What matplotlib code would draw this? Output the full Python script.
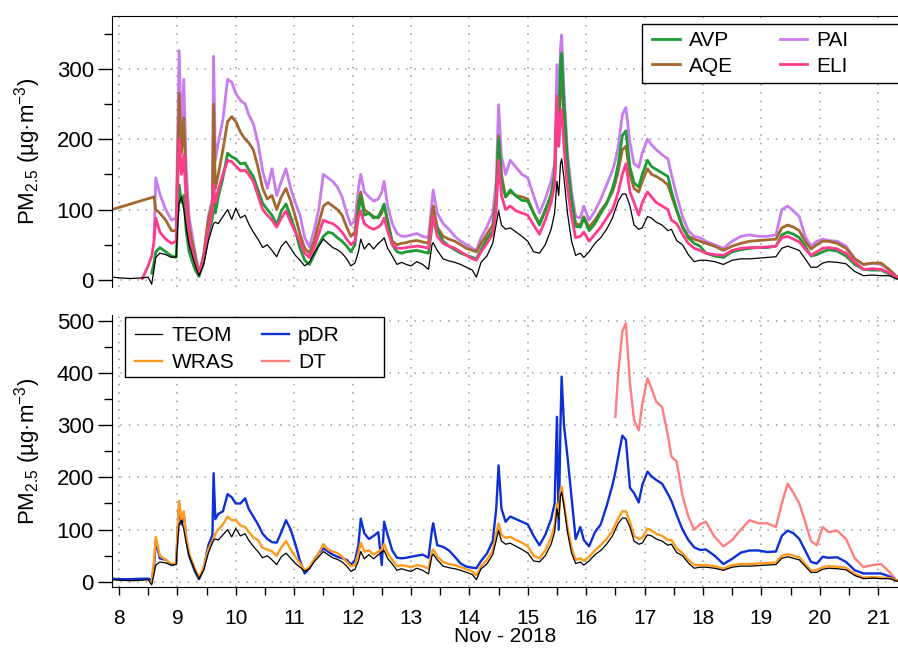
import numpy as np
import matplotlib
matplotlib.use("Agg")
import matplotlib.pyplot as plt
import matplotlib.ticker as ticker
from matplotlib.patches import Rectangle

plt.rcParams['font.family'] = ['Liberation Sans', 'DejaVu Sans']
plt.rcParams['mathtext.fontset'] = 'custom'
plt.rcParams['mathtext.rm'] = 'Liberation Sans'
plt.rcParams['mathtext.it'] = 'Liberation Sans:italic'

nan = np.nan

# sample times, day of November 2018
days = np.array([
    7.88, 8.0, 8.2, 8.4, 8.5,
    8.56, 8.6, 8.63, 8.7, 8.8, 8.9, 8.98,
    9.0, 9.03, 9.07, 9.11, 9.15, 9.2, 9.3, 9.37, 9.45,
    9.53, 9.6, 9.62, 9.65, 9.7, 9.78, 9.86, 9.93,
    10.0, 10.08, 10.16, 10.22, 10.3, 10.38, 10.46, 10.54, 10.62, 10.7, 10.78, 10.86, 10.94,
    11.02, 11.1, 11.18, 11.26, 11.34, 11.42, 11.5, 11.58, 11.66, 11.74, 11.82, 11.9, 11.97,
    12.04, 12.1, 12.14, 12.2, 12.28, 12.36, 12.44, 12.5, 12.54, 12.6, 12.68, 12.76, 12.84, 12.92,
    13.0, 13.1, 13.2, 13.3, 13.36, 13.38, 13.45, 13.55, 13.65, 13.75, 13.85, 13.95,
    14.05, 14.12, 14.2, 14.3, 14.4, 14.46, 14.5, 14.55, 14.62, 14.7, 14.8, 14.9,
    15.0, 15.1, 15.2, 15.3, 15.4, 15.46, 15.5, 15.53, 15.56, 15.58, 15.62, 15.68, 15.75, 15.82, 15.9, 15.96,
    16.05, 16.15, 16.25, 16.35, 16.45, 16.5, 16.55, 16.62, 16.68, 16.75, 16.82, 16.9, 16.96,
    17.05, 17.12, 17.2, 17.3, 17.4, 17.46, 17.55, 17.65, 17.75, 17.85, 17.95,
    18.05, 18.2, 18.35, 18.5, 18.65, 18.8, 18.95,
    19.1, 19.25, 19.35, 19.45, 19.55, 19.65, 19.75, 19.85, 19.95,
    20.05, 20.15, 20.3, 20.45, 20.6, 20.75, 20.9,
    21.05, 21.2, 21.3, 21.4,
])

teom = [
    4, 3, 2, 3, 4,
    -6, 15, 32, 38, 36, 32, 33,
    70, 110, 118, 100, 75, 50, 22, 6, 22,
    55, 75, 80, 82, 80, 90, 100, 86,
    102, 88, 92, 80, 68, 58, 46, 50, 42, 33, 48, 55, 45,
    35, 28, 20, 25, 38, 48, 58, 52, 46, 43, 38, 30, 20,
    24, 40, 58, 44, 52, 44, 52, 56, 60, 45, 34, 22, 25, 22,
    20, 26, 22, 15, 50, 53, 42, 30, 27, 25, 22, 18,
    14, 4, 25, 34, 52, 80, 98, 78, 72, 74, 68, 62,
    55, 40, 38, 50, 72, 95, 140, 120, 165, 172, 145, 95, 55, 35, 38, 32,
    40, 52, 60, 72, 88, 100, 112, 122, 122, 105, 78, 72, 74,
    90, 88, 82, 78, 70, 72, 56, 50, 36, 26, 28,
    28, 26, 22, 28, 30, 30, 31,
    32, 33, 45, 48, 45, 42, 30, 18, 18,
    24, 26, 25, 23, 12, 6, 7,
    6, 6, 2, 0,
]

avp = [
    nan, nan, nan, nan, nan,
    10, 25, 40, 46, 40, 34, 32,
    80, 135, 110, 120, 70, 40, 15, 5, 25,
    65, 88, 120, 95, 118, 145, 180, 175,
    172, 165, 166, 157, 147, 128, 109, 100, 92, 78, 98, 108, 90,
    70, 45, 28, 22, 35, 50, 62, 68, 66, 60, 55, 48, 40,
    50, 95, 120, 92, 95, 88, 90, 100, 108, 82, 50, 40, 38, 40,
    41, 42, 40, 38, 75, 86, 72, 55, 48, 43, 38, 35,
    32, 30, 43, 58, 70, 110, 200, 140, 118, 128, 119, 113,
    112, 95, 78, 98, 122, 150, 251, 200, 310, 322, 250, 168, 115, 76, 75, 88,
    70, 80, 95, 108, 130, 145, 165, 205, 212, 160, 138, 132, 150,
    170, 161, 157, 152, 147, 126, 100, 75, 60, 52, 48,
    38, 34, 32, 40, 43, 45, 46,
    46, 48, 64, 68, 65, 60, 48, 34, 36,
    40, 43, 41, 34, 22, 15, 14,
    14, 8, 3, 0,
]

aqe = [
    100, nan, nan, nan, nan,
    nan, 118, 100, 95, 85, 70, 70,
    150, 265, 180, 230, 130, 75, 35, 8, 35,
    85, 110, 250, 130, 150, 185, 225, 232,
    225, 210, 200, 195, 185, 160, 130, 115, 120, 100, 118, 130, 112,
    90, 65, 45, 38, 55, 80, 105, 110, 105, 100, 92, 75, 62,
    68, 110, 125, 100, 95, 90, 88, 95, 105, 85, 55, 50, 52, 53,
    55, 56, 54, 52, 95, 105, 75, 62, 58, 55, 50, 45,
    42, 40, 52, 65, 78, 120, 205, 150, 118, 125, 120, 118,
    115, 95, 80, 100, 120, 140, 230, 190, 280, 290, 230, 160, 112, 80, 78, 90,
    75, 85, 98, 110, 125, 138, 155, 185, 190, 150, 130, 125, 140,
    158, 150, 147, 142, 135, 120, 98, 76, 62, 58, 55,
    52, 48, 42, 48, 52, 55, 56,
    57, 58, 74, 78, 75, 70, 55, 44, 50,
    55, 55, 52, 45, 30, 22, 24,
    24, 14, 6, 0,
]

pai = [
    nan, nan, nan, nan, nan,
    nan, 60, 145, 122, 100, 85, 88,
    180, 326, 200, 285, 160, 90, 40, 10, 35,
    90, 115, 318, 170, 195, 228, 285, 281,
    265, 255, 250, 235, 222, 195, 155, 130, 158, 120, 140, 158, 130,
    110, 92, 60, 47, 70, 100, 150, 145, 140, 132, 118, 95, 78,
    85, 130, 150, 125, 118, 112, 115, 125, 140, 105, 80, 66, 62, 62,
    64, 66, 62, 60, 110, 128, 95, 80, 72, 62, 55, 50,
    45, 42, 60, 75, 95, 140, 249, 175, 150, 170, 160, 150,
    145, 120, 95, 115, 140, 165, 306, 215, 330, 348, 270, 180, 125, 90, 88, 105,
    85, 98, 115, 135, 155, 170, 190, 235, 245, 195, 165, 160, 180,
    200, 192, 185, 178, 172, 150, 120, 90, 70, 62, 60,
    55, 50, 45, 55, 62, 64, 62,
    62, 64, 100, 105, 98, 90, 62, 48, 55,
    58, 56, 55, 48, 30, 22, 24,
    22, 14, 6, 0,
]

eli = [
    nan, nan, nan, 2, 20,
    34, 55, 88, 68, 58, 52, 55,
    120, 200, 150, 178, 110, 60, 25, 8, 30,
    70, 100, 135, 110, 128, 150, 170, 168,
    162, 155, 156, 150, 140, 120, 100, 92, 85, 75, 88, 98, 82,
    68, 55, 38, 32, 45, 65, 85, 82, 80, 75, 68, 58, 50,
    55, 90, 98, 80, 75, 72, 75, 80, 88, 70, 50, 45, 45, 46,
    47, 48, 47, 45, 80, 90, 62, 52, 48, 45, 40, 35,
    30, 28, 40, 52, 65, 100, 170, 120, 100, 105, 98, 95,
    92, 78, 65, 85, 110, 135, 261, 190, 235, 242, 190, 130, 90, 60, 62, 68,
    55, 65, 75, 88, 100, 112, 125, 150, 165, 125, 110, 92, 110,
    125, 118, 110, 105, 100, 85, 80, 65, 52, 45, 42,
    38, 36, 35, 42, 45, 46, 46,
    47, 48, 60, 62, 58, 54, 44, 35, 40,
    45, 46, 44, 38, 25, 15, 16,
    15, 10, 4, 0,
]

wras = [
    nan, nan, nan, nan, nan,
    0, 40, 86, 50, 42, 34, 35,
    90, 155, 118, 135, 85, 55, 25, 8, 28,
    62, 78, 82, 92, 100, 110, 125, 118,
    118, 108, 105, 96, 85, 80, 65, 62, 58, 50, 66, 78, 62,
    48, 35, 22, 28, 42, 55, 72, 62, 58, 55, 48, 38, 30,
    32, 55, 75, 58, 60, 52, 58, 62, 72, 55, 42, 30, 32, 30,
    28, 32, 30, 25, 58, 62, 48, 38, 34, 32, 28, 24,
    20, 12, 30, 42, 60, 92, 112, 90, 84, 86, 80, 75,
    68, 50, 45, 60, 85, 108, 150, 125, 175, 182, 150, 105, 65, 42, 45, 40,
    48, 60, 70, 82, 98, 110, 122, 135, 135, 115, 88, 82, 84,
    102, 98, 92, 88, 80, 80, 64, 55, 42, 32, 32,
    32, 30, 25, 32, 34, 34, 35,
    36, 37, 50, 53, 50, 47, 34, 22, 22,
    28, 30, 29, 27, 15, 8, 9,
    8, 7, 3, 0,
]

pdr = [
    6, 5, 5, 6, 6,
    3, 30, 78, 45, 42, 32, 35,
    85, 150, 110, 130, 85, 50, 20, 5, 25,
    70, 90, 208, 120, 130, 135, 168, 162,
    150, 150, 160, 140, 125, 110, 92, 82, 76, 75, 95, 118, 100,
    72, 40, 16, 26, 42, 55, 64, 58, 52, 48, 45, 42, 33,
    40, 70, 121, 93, 82, 88, 95, 32, 115, 90, 60, 46, 45, 46,
    48, 50, 52, 46, 100, 112, 70, 67, 60, 48, 35, 29,
    27, 26, 40, 54, 78, 140, 223, 140, 115, 125, 120, 115,
    110, 88, 70, 90, 120, 150, 316, 100, 300, 393, 300, 240, 160, 82, 105, 80,
    68, 95, 110, 145, 185, 210, 240, 280, 272, 180, 170, 152, 185,
    211, 202, 195, 188, 168, 155, 128, 100, 80, 66, 61,
    62, 50, 34, 44, 56, 60, 60,
    57, 58, 88, 98, 93, 82, 60, 38, 35,
    48, 46, 47, 38, 22, 16, 16,
    16, 10, 3, 0,
]

dt = [
    nan, nan, nan, nan, nan,
    nan, nan, nan, nan, nan, nan, nan,
    nan, nan, nan, nan, nan, nan, nan, nan, nan,
    nan, nan, nan, nan, nan, nan, nan, nan,
    nan, nan, nan, nan, nan, nan, nan, nan, nan, nan, nan, nan, nan,
    nan, nan, nan, nan, nan, nan, nan, nan, nan, nan, nan, nan, nan,
    nan, nan, nan, nan, nan, nan, nan, nan, nan, nan, nan, nan, nan, nan,
    nan, nan, nan, nan, nan, nan, nan, nan, nan, nan, nan, nan,
    nan, nan, nan, nan, nan, nan, nan, nan, nan, nan, nan, nan,
    nan, nan, nan, nan, nan, nan, nan, nan, nan, nan, nan, nan, nan, nan, nan, nan,
    nan, nan, nan, nan, nan, 316, 400, 480, 495, 380, 310, 290, 340,
    390, 370, 345, 335, 280, 240, 230, 165, 125, 100, 110,
    115, 86, 68, 80, 100, 118, 112,
    112, 105, 150, 188, 170, 150, 115, 78, 70,
    105, 95, 98, 82, 45, 28, 32,
    34, 18, 4, 0,
]

top_series = [("PAI", pai, "#c77cf0"), ("AQE", aqe, "#a3682f"),
              ("AVP", avp, "#1e9a35"), ("ELI", eli, "#ff3c8c")]
bottom_series = [("DT", dt, "#ff7e7e"), ("pDR", pdr, "#0c2fd6"),
                 ("WRAS", wras, "#ff9a1c")]

fig = plt.figure(figsize=(8.98, 6.49), dpi=100)
ax1 = fig.add_axes([0.1247, 0.5578, 0.8753, 0.4176])
ax2 = fig.add_axes([0.1247, 0.0955, 0.8753, 0.4191], sharex=ax1)


def draw(ax, values, color, lw):
    v = np.asarray(values, dtype=float)
    ok = np.isfinite(v)
    return ax.plot(days[ok], v[ok], color=color, lw=lw)[0]


handles = {}
for name, vals, col in top_series:
    handles[name] = draw(ax1, vals, col, 2.0)
draw(ax1, teom, "black", 0.9)

for name, vals, col in bottom_series:
    handles[name] = draw(ax2, vals, col, 1.7)
handles["TEOM"] = draw(ax2, teom, "black", 0.9)

ylab = r"PM$_{2.5}$ (µg·m$^{-3}$)"
for ax, top in [(ax1, 375), (ax2, 511)]:
    ax.set_xlim(7.88, 21.34)
    ax.set_ylim(-10, top)
    ax.yaxis.set_major_locator(ticker.MultipleLocator(100))
    ax.yaxis.set_minor_locator(ticker.MultipleLocator(50))
    ax.xaxis.set_major_locator(ticker.MultipleLocator(1))
    ax.xaxis.set_minor_locator(ticker.MultipleLocator(0.5))
    ax.grid(True, which="major", color="#9a9a9a", lw=1.1, ls=(0, (1, 4.5)))
    ax.tick_params(axis="y", which="major", length=10, width=1, labelsize=16, pad=3)
    ax.tick_params(axis="y", which="minor", length=6, width=1)
    ax.spines["right"].set_visible(False)
    ax.set_ylabel(ylab, fontsize=16)
    ax.yaxis.set_label_coords(-0.088, 0.5)
    ax.set_axisbelow(True)

ax1.spines["bottom"].set_visible(False)
ax1.tick_params(axis="x", which="both", bottom=False, labelbottom=False)
ax2.spines["top"].set_visible(False)
ax2.tick_params(axis="x", which="major", length=6, width=1, labelsize=15, pad=10)
ax2.tick_params(axis="x", which="minor", length=6, width=1)
ax2.set_xlabel("Nov - 2018", fontsize=15, labelpad=-1)

# legends with a hand-sized frame
leg1 = ax1.legend([handles[k] for k in ["AVP", "AQE", "PAI", "ELI"]],
                  ["AVP", "AQE", "PAI", "ELI"], ncol=2, frameon=False,
                  loc="upper left", bbox_to_anchor=(0.677, 0.974), fontsize=15,
                  handlelength=1.3, handletextpad=0.45, columnspacing=2.25,
                  labelspacing=0.3, borderaxespad=0)
ax1.add_patch(Rectangle((0.674, 0.753), 0.4, 0.217, transform=ax1.transAxes,
                        facecolor="white", edgecolor="black", lw=1.0, zorder=4,
                        clip_on=False))
leg1.set_zorder(5)

leg2 = ax2.legend([handles[k] for k in ["TEOM", "WRAS", "pDR", "DT"]],
                  ["TEOM", "WRAS", "pDR", "DT"], ncol=2, frameon=False,
                  loc="upper left", bbox_to_anchor=(0.019, 0.99), fontsize=15,
                  handlelength=1.3, handletextpad=0.45, columnspacing=1.3,
                  labelspacing=0.4, borderaxespad=0)
ax2.add_patch(Rectangle((0.0165, 0.772), 0.3295, 0.221, transform=ax2.transAxes,
                        facecolor="white", edgecolor="black", lw=1.0, zorder=4,
                        clip_on=False))
leg2.set_zorder(5)

fig.savefig("out.png", dpi=100)
